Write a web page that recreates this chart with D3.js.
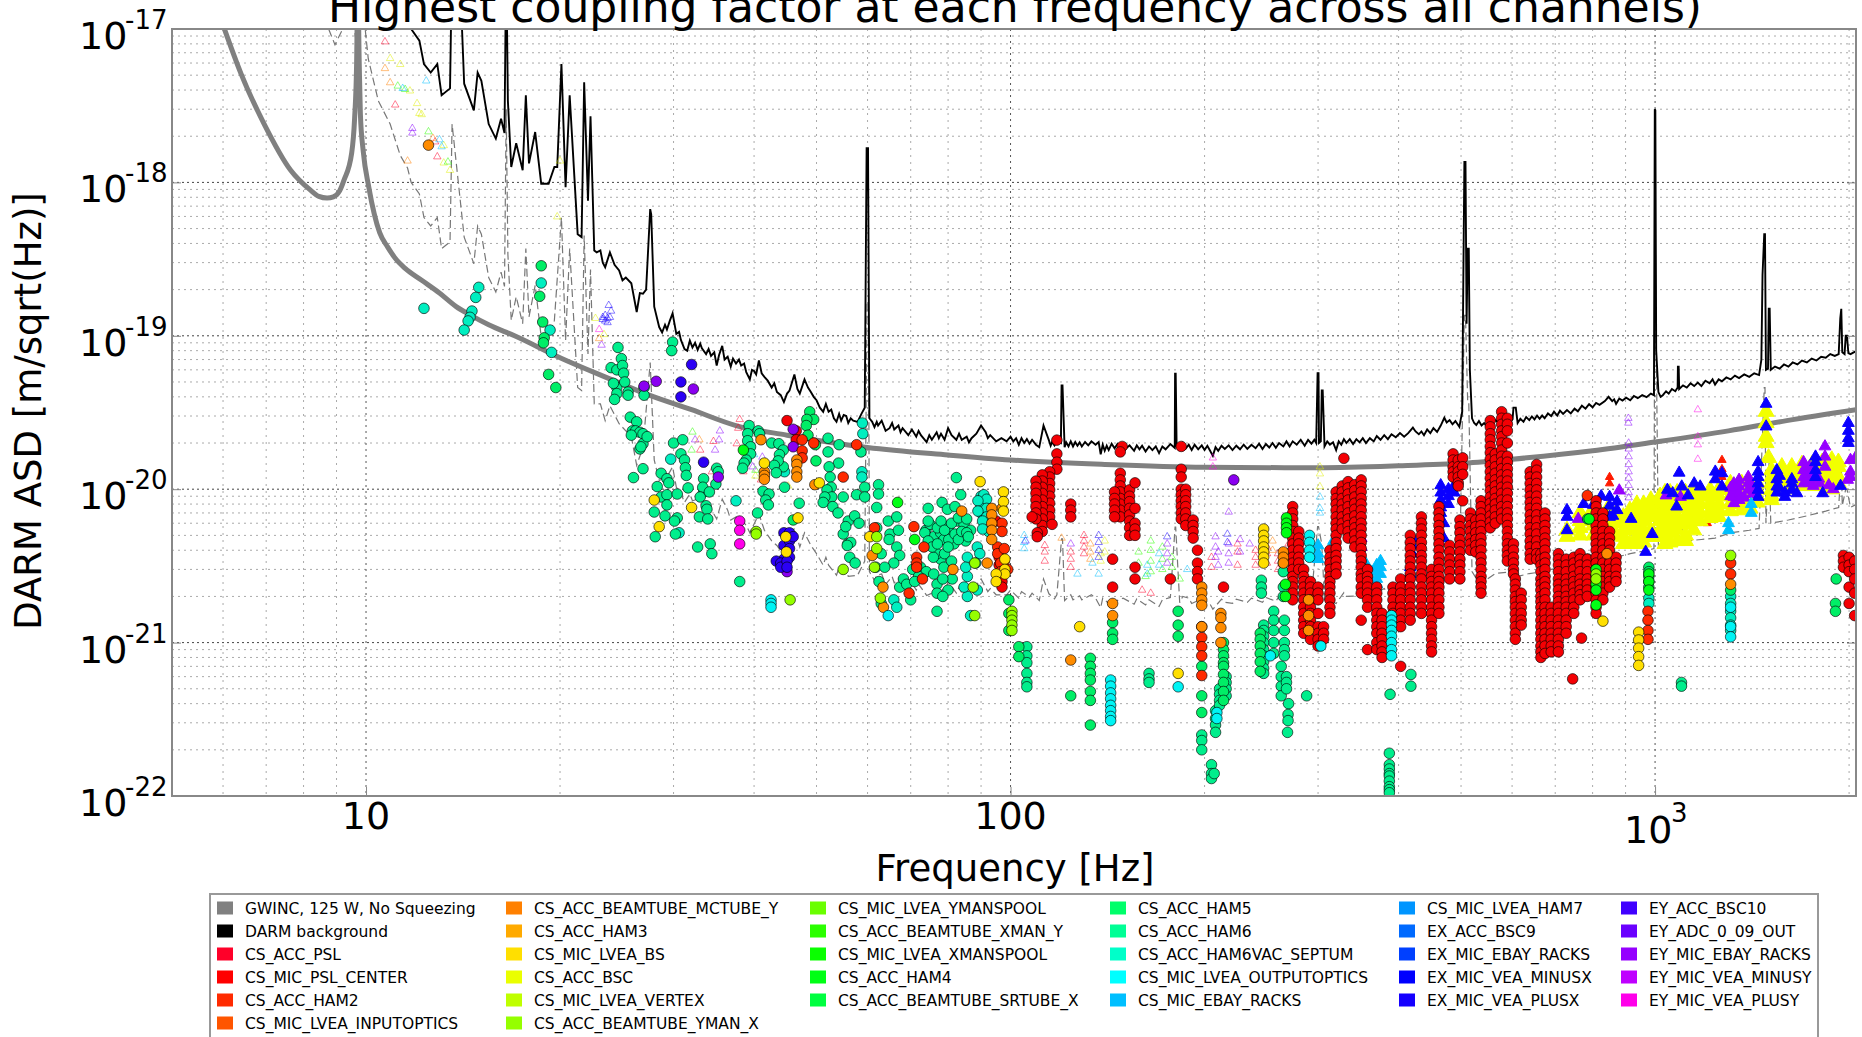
<!DOCTYPE html>
<html>
<head>
<meta charset="utf-8">
<script src="https://cdn.jsdelivr.net/npm/d3@7"></script>
<style>
  html, body { margin: 0; background: #fff; }
  text { font-family: "DejaVu Sans", sans-serif; fill: #000; }
</style>
</head>
<body>
<svg id="chart" width="1862" height="1037"></svg>
<script>
// legend, column by column
const legendNames = [
  'GWINC, 125 W, No Squeezing', 'DARM background', 'CS_ACC_PSL', 'CS_MIC_PSL_CENTER', 'CS_ACC_HAM2', 'CS_MIC_LVEA_INPUTOPTICS',
  'CS_ACC_BEAMTUBE_MCTUBE_Y', 'CS_ACC_HAM3', 'CS_MIC_LVEA_BS', 'CS_ACC_BSC', 'CS_MIC_LVEA_VERTEX', 'CS_ACC_BEAMTUBE_YMAN_X',
  'CS_MIC_LVEA_YMANSPOOL', 'CS_ACC_BEAMTUBE_XMAN_Y', 'CS_MIC_LVEA_XMANSPOOL', 'CS_ACC_HAM4', 'CS_ACC_BEAMTUBE_SRTUBE_X',
  'CS_ACC_HAM5', 'CS_ACC_HAM6', 'CS_ACC_HAM6VAC_SEPTUM', 'CS_MIC_LVEA_OUTPUTOPTICS', 'CS_MIC_EBAY_RACKS',
  'CS_MIC_LVEA_HAM7', 'EX_ACC_BSC9', 'EX_MIC_EBAY_RACKS', 'EX_MIC_VEA_MINUSX', 'EX_MIC_VEA_PLUSX',
  'EY_ACC_BSC10', 'EY_ADC_0_09_OUT', 'EY_MIC_EBAY_RACKS', 'EY_MIC_VEA_MINUSY', 'EY_MIC_VEA_PLUSY'
];
const legendColors = [
  '#808080', '#000000', '#ff0029', '#ff0000', '#ff2a00', '#ff5500',
  '#ff8000', '#ffaa00', '#ffdf00', '#eaff00', '#bfff00', '#95ff00',
  '#6aff00', '#2bff00', '#0aff00', '#00ff15', '#00ff40',
  '#00ff6a', '#00ff95', '#00ffc9', '#00ffff', '#00bfff',
  '#0095ff', '#006aff', '#0040ff', '#0000ff', '#1500ff',
  '#4000ff', '#6a00ff', '#9500ff', '#bf00ff', '#ff00ea'
];
const legendColumnSizes = [6, 6, 5, 5, 5, 5];

const yDecades = [1e-17, 1e-18, 1e-19, 1e-20, 1e-21, 1e-22];
const xDecades = [10, 100, 1000];

const gwinc = [[6.03,1e-17],[6.4,5.1e-18],[6.95,2.4e-18],[7.64,1.2e-18],[8.2,8.9e-19],[8.45,8.1e-19],[8.7,7.9e-19],[8.9,8.05e-19],[9.1,8.8e-19],
  [9.24,1.03e-18],[9.5,1.55e-18],[9.6,2.6e-18],[9.67,6e-18],[9.71,2e-17],[9.76,6e-18],[9.8,2.8e-18],[9.9,1.6e-18],[10.1,9.3e-19],
  [10.5,4.7e-19],[10.8,3.8e-19],[11.1,3.2e-19],[11.5,2.75e-19],[12.2,2.3e-19],[13,1.9e-19],[13.8,1.55e-19],[14.5,1.37e-19],[15.5,1.18e-19],[17,1e-19],[20,7.2e-20],[24,5.2e-20],[27.5,4.1e-20],
  [32,3.3e-20],[37.5,2.6e-20],[45,2.25e-20],[60,1.87e-20],[80,1.67e-20],[100,1.55e-20],[140,1.45e-20],[200,1.39e-20],[300,1.38e-20],
  [400,1.42e-20],[505,1.48e-20],[600,1.57e-20],[800,1.78e-20],[1000,2.03e-20],[1300,2.4e-20],[1600,2.8e-20],[2050,3.3e-20]];

const darmBackground = [[11.75,1e-17],[12.1,8.4e-18],[12.3,5.9e-18],[12.6,5.2e-18],[12.9,5.9e-18],[13.1,3.7e-18],[13.5,4.1e-18],[13.6,3e-17],
  [14.0,2e-17],[14.2,4.4e-18],[14.7,2.95e-18],[14.9,5.2e-18],[15.1,4.6e-18],[15.5,2.4e-18],[15.9,1.93e-18],[16.2,2.6e-18],[16.4,2.1e-18],[16.5,3e-17],
  [16.6,3.4e-18],[16.8,1.26e-18],[17.1,1.8e-18],[17.5,1.2e-18],[17.7,3.7e-18],[17.9,1.33e-18],[18.3,2.13e-18],[18.7,9.8e-19],[19.2,9.8e-19],
  [19.6,1.26e-18],[19.8,1.26e-18],[20.1,5.9e-18],[20.4,9.3e-19],[20.7,3.7e-18],[21.3,4.6e-19],[21.6,4.4e-19],[21.8,4.5e-18],[22.1,7.6e-19],
  [22.3,2.7e-18],[22.6,3.6e-19],[22.8,3.5e-19],[23.1,3.6e-19],[23.3,3e-19],[23.5,2.8e-19],[23.9,3.5e-19],[24.3,2.9e-19],[24.7,2.67e-19],[25,2.3e-19],[25.3,2.4e-19],[25.8,2.2e-19],
  [26.3,1.43e-19],[26.6,1.9e-19],[26.9,1.88e-19],[27.2,2e-19],[27.6,6.7e-19],[27.7,6.2e-19],[28.0,1.55e-19],[28.5,1.14e-19],[28.8,1.05e-19],[29.1,1.18e-19],[29.3,1.1e-19],[29.6,1.25e-19],
  [29.9,1.4e-19],[30.3,1.03e-19],[30.6,1.06e-19],[30.8,9.4e-20],[31.2,8.2e-20],[31.5,8e-20],[31.8,9.3e-20],[32.1,8.4e-20],[32.4,9e-20],[32.7,8.1e-20],[33,8.9e-20],[33.2,8.3e-20],[33.7,7.6e-20],[34,8.2e-20],[34.3,7.4e-20],[34.7,7.8e-20],
  [35,6.4e-20],[35.3,7.5e-20],[35.7,8.6e-20],[36,7e-20],[36.4,7.3e-20],[36.8,6.3e-20],[37.1,7.1e-20],[37.5,6.6e-20],[37.9,7e-20],[38.2,6.4e-20],[38.6,6.6e-20],[38.9,5.8e-20],[39.4,5.2e-20],[39.7,6e-20],[40,5.9e-20],[40.3,5.6e-20],[40.7,6.9e-20],
  [41.1,5.7e-20],[41.5,5.4e-20],[42,5.1e-20],[42.6,4.6e-20],[43,4.9e-20],[43.4,4.3e-20],[44,4.1e-20],[44.5,3.7e-20],[45,4.2e-20],[45.4,4.4e-20],[46.2,5.6e-20],[46.7,4.5e-20],[47.1,4.2e-20],[47.9,5.2e-20],[48.5,4.6e-20],[49,4.3e-20],[49.5,4e-20],[50,3.8e-20],
  [50.6,3.4e-20],[51.2,3.2e-20],[51.7,3.6e-20],[52.2,3.2e-20],[52.7,3.3e-20],[53.2,2.9e-20],[53.7,2.75e-20],[54.2,3.1e-20],[54.6,2.8e-20],[55.1,3.05e-20],[55.6,3e-20],[56,2.7e-20],[56.5,2.9e-20],[57,2.8e-20],[57.9,2.75e-20],[58.7,3.1e-20],[59.4,3.4e-20],[59.8,1.67e-18],
  [60.1,1.67e-18],[60.4,2.9e-20],[61,2.75e-20],[61.5,2.54e-20],[62,2.75e-20],[62.3,2.6e-20],[63.1,2.8e-20],[64,2.4e-20],[64.9,2.5e-20],[65.5,2.7e-20],[66,2.45e-20],[67,2.6e-20],[67.5,2.35e-20],[68,2.5e-20],
  [69.4,2.25e-20],[70.3,2.45e-20],[71.4,2.2e-20],[72,2.4e-20],[72.6,2.25e-20],[74.1,2.03e-20],[74.8,2.25e-20],[75.5,2.1e-20],[76.8,2.35e-20],[77.4,2.15e-20],[78,2.3e-20],[79,2.1e-20],[80,2.5e-20],[81,2.25e-20],
  [82.4,2.1e-20],[83.2,2.3e-20],[84,2.1e-20],[85.5,2.2e-20],[86.2,2.02e-20],[87,2.15e-20],[88.5,2.3e-20],[90,2.6e-20],[91.5,2.35e-20],[92.2,2.15e-20],[93,2.25e-20],[95,2.05e-20],[96.8,2.15e-20],[98.6,2.05e-20],
  [100,2.2e-20],[101,2.05e-20],[102,2.15e-20],[103,1.95e-20],[104,2.15e-20],[105,2e-20],[106,2.12e-20],[107,1.98e-20],[108,2.1e-20],[109.5,1.95e-20],[110.8,1.88e-20],[112.5,2.6e-20],[114.7,2.08e-20],[115.4,1.92e-20],[116,2.03e-20],[117,1.93e-20],[118,2.05e-20],[119.7,2e-20],
  [120,4.75e-20],[120.4,4.75e-20],[121.3,1.88e-20],[122,2.02e-20],[123,1.9e-20],[124,2.05e-20],[125,1.9e-20],[126,2.03e-20],[127,1.92e-20],[128,2.02e-20],[129,1.9e-20],[130.5,2.03e-20],[132,1.93e-20],[133.5,2.05e-20],[135.5,1.95e-20],[137,2.03e-20],[138,1.69e-20],
  [139,1.95e-20],[140,1.78e-20],[141,1.92e-20],[142,1.8e-20],[143.5,1.98e-20],[145,1.85e-20],[146.5,1.97e-20],[148,1.82e-20],[149.5,1.95e-20],[151,1.84e-20],[153,1.93e-20],[155.5,1.78e-20],[157,1.93e-20],[158.5,1.82e-20],[160,1.92e-20],[162,1.76e-20],[164,1.9e-20],[166,1.8e-20],[168,1.9e-20],[170,1.72e-20],[172,1.9e-20],[174,1.82e-20],
  [177,1.97e-20],[179.8,1.86e-20],[180,5.66e-20],[180.4,5.66e-20],[181,1.9e-20],[183,1.82e-20],[185,2e-20],[187,1.84e-20],[189,1.95e-20],[191,1.8e-20],[193,1.95e-20],[195.5,1.82e-20],[198,1.93e-20],[200,1.8e-20],[202,1.92e-20],[204,1.78e-20],[206,1.65e-20],
  [208,1.88e-20],[210,1.78e-20],[212.5,1.92e-20],[215,1.83e-20],[218,1.93e-20],[221,1.8e-20],[224,1.92e-20],[227,1.82e-20],[230,1.95e-20],[233,1.83e-20],[236.5,1.95e-20],[240,1.85e-20],[243,1.98e-20],[246,1.83e-20],[249,1.97e-20],[252,1.87e-20],[255,2e-20],[258,1.86e-20],[261,2e-20],[265,1.9e-20],[268,2.05e-20],[271,1.9e-20],[274,2.05e-20],
  [278,1.95e-20],[282,2.1e-20],[286,1.92e-20],[289.5,2.1e-20],[293,1.98e-20],[296,2.1e-20],[298,2e-20],[299.5,5.7e-20],[300.5,5.7e-20],[301,2e-20],[303,2.05e-20],[304,4.4e-20],[305,4.4e-20],[307,1.9e-20],
  [310,2.05e-20],[313,1.95e-20],[316.5,2.02e-20],[320,1.8e-20],[323,2.05e-20],[326,1.95e-20],[329,2.12e-20],[332,2e-20],[336,2.12e-20],[340,1.97e-20],[344,2.12e-20],[348,2.02e-20],[352,2.15e-20],[356,2e-20],[361,2.15e-20],[366,2.05e-20],[370,2.22e-20],[375,2.1e-20],[380,2.25e-20],[385,2.12e-20],[390,2.28e-20],[396,2.18e-20],
  [402,2.32e-20],[408,2.2e-20],[414,2.32e-20],[421,2.52e-20],[425,2.38e-20],[430,2.28e-20],[434,2.38e-20],[438,2.25e-20],[443,2.45e-20],[448,2.32e-20],[453,2.5e-20],[459,2.36e-20],[465,2.6e-20],[471,2.92e-20],[475,2.72e-20],[480,2.82e-20],[485,2.65e-20],[490,2.78e-20],[497,2.55e-20],
  [502,3.2e-20],[506,1.36e-18],[508,1.36e-18],[510,1.2e-19],[512,3.7e-19],[514,3.7e-19],[516,6e-20],[520,2.9e-20],[524,2.7e-20],[528,2.62e-20],[533,2.78e-20],[538,2.6e-20],[543,2.7e-20],
  [548,2.58e-20],[553,2.85e-20],[559,2.7e-20],[565,2.82e-20],[572,2.72e-20],[580,2.95e-20],[585,2.75e-20],[590,2.88e-20],[596,2.75e-20],[601,2.85e-20],[603,3.4e-20],[606,3.4e-20],[608,3.4e-20],[612,2.7e-20],[618,2.88e-20],[625,2.75e-20],[631,2.95e-20],[638,2.82e-20],
  [644,2.98e-20],[650,2.85e-20],[656,3.02e-20],[662,2.88e-20],[668,3.02e-20],[674,2.9e-20],[682,3.12e-20],[690,3e-20],[697,3.2e-20],[705,3.02e-20],[712,3.25e-20],[720,3.1e-20],[730,3.28e-20],[740,3.12e-20],[750,3.35e-20],[759,3.22e-20],[770,3.5e-20],[780,3.35e-20],[790,3.58e-20],[800,3.42e-20],[810,3.65e-20],[820,3.55e-20],
  [836,3.75e-20],[847,4e-20],[858,3.75e-20],[864,3.85e-20],[870,3.6e-20],[880,3.9e-20],[890,3.78e-20],[902,3.95e-20],[915,3.8e-20],[927,4.05e-20],[940,3.92e-20],[955,4.1e-20],[970,3.98e-20],[985,4.2e-20],[996,4.1e-20],[999,3e-18],[1001,2.95e-18],[1004,8e-20],
  [1012,4.3e-20],[1020,4e-20],[1028,4.1e-20],[1040,4.35e-20],[1050,4.2e-20],[1062,4.5e-20],[1075,4.35e-20],[1084,4.6e-20],[1085,6.3e-20],[1088,6.3e-20],[1090,4.5e-20],[1105,4.75e-20],[1120,4.6e-20],[1135,4.9e-20],[1150,4.7e-20],
  [1165,4.95e-20],[1180,4.7e-20],[1197,5.1e-20],[1215,4.9e-20],[1228,5.2e-20],[1239,4.8e-20],[1255,5.2e-20],[1270,5.05e-20],[1290,5.35e-20],[1310,5.2e-20],[1330,5.5e-20],[1350,5.3e-20],[1375,5.6e-20],[1400,5.4e-20],[1425,5.7e-20],[1450,5.55e-20],[1462,7e-20],[1468,2.5e-19],[1477,4.6e-19],
  [1481,4.6e-19],[1486,6e-20],[1497,6.1e-20],[1501,1.5e-19],[1506,1.5e-19],[1512,6e-20],[1535,6.3e-20],[1560,6.1e-20],[1585,6.5e-20],[1610,6.3e-20],[1635,6.7e-20],[1663,6.5e-20],[1690,6.9e-20],[1720,6.7e-20],[1750,7.1e-20],[1780,6.9e-20],[1810,7.3e-20],
  [1840,7.2e-20],[1870,7.6e-20],[1900,7.4e-20],[1927,7.6e-20],[1938,1.3e-19],[1945,1.5e-19],[1952,7.8e-20],[1968,7.6e-20],[1976,1e-19],[1985,1e-19],[1995,7.7e-20],[2010,7.6e-20],[2056,8e-20]];

// thin dashed curve sitting a decade under the background
const darmLimit = [[8.75,1e-17],[8.95,7.9e-18],[9.2,1e-17],[9.55,2e-17],[9.62,9e-18],[9.68,8e-18],[9.75,2e-17],[9.97,1e-17],[10.08,6.4e-18],[10.45,3.4e-18],[10.9,2.4e-18],
  [11.3,1.5e-18],[11.6,1.24e-18],[11.75,1e-18],[12.1,8.4e-19],[12.3,5.9e-19],[12.6,5.2e-19],[12.9,5.9e-19],[13.1,3.7e-19],[13.5,4.1e-19],[13.6,2.4e-18],[14.2,4.4e-19],
  [14.7,2.95e-19],[14.9,5.2e-19],[15.1,4.6e-19],[15.5,2.4e-19],[15.9,1.93e-19],[16.2,2.6e-19],[16.4,2.1e-19],[16.5,3e-18],[16.6,3.4e-19],[16.8,1.26e-19],[17.1,1.8e-19],
  [17.5,1.2e-19],[17.7,3.7e-19],[17.9,1.33e-19],[18.3,2.13e-19],[18.7,9.8e-20],[19.2,9.8e-20],[19.6,1.26e-19],[20.1,5.9e-19],[20.4,9.3e-20],[20.7,3.7e-19],[21.3,4.6e-20],
  [21.6,4.4e-20],[21.8,4.5e-19],[22.1,7.6e-20],[22.3,2.7e-19],[22.6,3.6e-20],[23.1,3.6e-20],[23.5,2.8e-20],[23.9,3.5e-20],[24.7,2.67e-20],[25.8,2.2e-20],[26.3,1.43e-20],
  [26.9,1.88e-20],[27.6,6.7e-20],[28,1.55e-20],[28.5,1.14e-20],[29.3,1.2e-20],[29.9,1.4e-20],[30.3,1.03e-20],[30.8,9.4e-21],[31.2,8.2e-21],[31.8,9.3e-21],[32.1,8.4e-21],[33.2,8.8e-21],[33.7,7.6e-21],[34.3,7.4e-21],[35,6.4e-21],
  [35.7,8.6e-21],[36.4,7.3e-21],[36.8,6.3e-21],[37.5,6.6e-21],[38.2,6.4e-21],[38.9,5.8e-21],[39.4,5.2e-21],[40.7,6.9e-21],[41.5,5.4e-21],[42.6,4.6e-21],[43.4,4.3e-21],[44.5,3.7e-21],[45.4,4.4e-21],[46.2,5.6e-21],[47.1,4.2e-21],[47.9,5.2e-21],
  [49,4.3e-21],[50,3.8e-21],[51.2,3.2e-21],[51.7,3.6e-21],[52.2,3.2e-21],[53.7,2.75e-21],[54.2,3.1e-21],[55.6,3e-21],[56,2.7e-21],[57.9,2.75e-21],[59.4,3.4e-21],[59.9,1.67e-19],[60.2,1.67e-19],[60.4,2.9e-21],
  [61.5,2.54e-21],[62,2.75e-21],[63.1,2.8e-21],[64,2.4e-21],[65.5,2.7e-21],[66,2.45e-21],[67,2.6e-21],[67.5,2.35e-21],[69.4,2.25e-21],[70.3,2.45e-21],[71.4,2.2e-21],[72,2.4e-21],[74.1,2.03e-21],[75.5,2.1e-21],[76.8,2.35e-21],[78,2.3e-21],[79,2.1e-21],[80,2.5e-21],
  [82.4,2.1e-21],[83.2,2.3e-21],[84,2.1e-21],[86.2,2.02e-21],[87,2.15e-21],[90,2.6e-21],[92.2,2.15e-21],[93,2.25e-21],[95,2.05e-21],[98.6,2.05e-21],[100,2.2e-21],[103,1.95e-21],[104,2.15e-21],[107,1.98e-21],[108,2.1e-21],[110.8,1.88e-21],[112.5,2.6e-21],[114.7,2.08e-21],
  [117,1.93e-21],[118,2.05e-21],[120,4.75e-21],[120.4,4.75e-21],[121.3,1.88e-21],[124,2.05e-21],[125,1.9e-21],[128,2.02e-21],[129,1.9e-21],[133.5,2.05e-21],[135.5,1.95e-21],[138,1.69e-21],[139,1.95e-21],[142,1.8e-21],[143.5,1.98e-21],[145,1.85e-21],[149.5,1.95e-21],[155.5,1.78e-21],[157,1.93e-21],
  [162,1.76e-21],[164,1.9e-21],[170,1.72e-21],[172,1.9e-21],[177,1.97e-21],[180,5.66e-21],[180.4,5.66e-21],[183,1.82e-21],[185,2e-21],[189,1.95e-21],[191,1.8e-21],[198,1.93e-21],[204,1.78e-21],[206,1.65e-21],[212.5,1.92e-21],[215,1.83e-21],[221,1.8e-21],[224,1.92e-21],
  [233,1.83e-21],[236.5,1.95e-21],[246,1.83e-21],[249,1.97e-21],[258,1.86e-21],[261,2e-21],[265,1.9e-21],[278,1.95e-21],[282,2.1e-21],[293,1.98e-21],[299.5,5.7e-21],[300.5,5.7e-21],[304,4.4e-21],[307,1.9e-21],[320,1.8e-21],[329,2.12e-21],[332,2e-21],
  [348,2.02e-21],[352,2.15e-21],[366,2.05e-21],[380,2.25e-21],[385,2.12e-21],[396,2.18e-21],[421,2.52e-21],[430,2.28e-21],[438,2.25e-21],[459,2.36e-21],[471,2.92e-21],[497,2.55e-21],[506,1.36e-19],[508,1.36e-19],[512,3.7e-20],
  [514,3.7e-20],[520,2.9e-21],[528,2.62e-21],[533,2.78e-21],[543,2.7e-21],[548,2.58e-21],[565,2.82e-21],[590,2.88e-21],[604,3.4e-21],[612,2.7e-21],[638,2.82e-21],[662,2.88e-21],[690,3e-21],[720,3.1e-21],[759,3.22e-21],[800,3.42e-21],
  [847,4e-21],[870,3.6e-21],[915,3.8e-21],[970,3.98e-21],[996,4.1e-21],[999,3e-19],[1001,2.95e-19],[1012,4.3e-21],[1028,4.1e-21],[1075,4.35e-21],[1085,6.3e-21],[1088,6.3e-21],[1120,4.6e-21],
  [1180,4.7e-21],[1239,4.8e-21],[1310,5.2e-21],[1400,5.4e-21],[1450,5.55e-21],[1477,4.6e-20],[1481,4.6e-20],[1486,6e-21],[1503,1.5e-20],[1512,6e-21],[1610,6.3e-21],[1720,6.7e-21],
  [1840,7.2e-21],[1927,7.6e-21],[1945,1.5e-20],[1952,7.8e-21],[1976,1e-20],[1985,1e-20],[2010,7.6e-21],[2056,8e-21]];

// measured coupling: each row is [frequency Hz, then ASD values in units of 1e-21]
const ham6Points = [
  [24.6,84],[24.9,71],[24,62],[24.5,60,46,42],[25,64],[25.1,57],[24.2,49],[25.2,50],[24.3,38.5],[25.5,43,41],[27,46,41],
  [25.7,29.5],[26.3,27.5],[25.9,24],[26.2,24],[26.6,23.5,18.3],[26.9,23,19.8,13.6],[27.3,22],[25.8,22.5],[26.7,18.9],[29.9,91],[29.8,80],[26,11.9],
  [30.8,17],[31.2,15.5],[31.3,13.8],[31.4,12.3],[31.6,10.2],[28.7,12.7,8.9],[29.3,11.7,9.2,7.9],[29.5,11],[28.3,10.4],[30.4,9.3,6.5],[28,7.1],[29.1,6.7],[30.1,6.2],[28.1,4.9],[30.2,5.1],
  [33.4,11.7,9.6],[33.3,10.3],[33,8.9],[35,13.7],[35.2,13],[34.9,10.8],[34.1,9.6],[33.7,7.8],[33.8,7.4],[32.9,6.6],[33.9,6.4],[32.7,4.2],[34.2,4.4],[34.4,3.8],[38,2.5],[30,20],[31,21],
  [39.3,26],[39.1,23,20.7],[39.5,18.9,17],[38.9,15.5],[38.6,14.8],[38.4,13.7],[40.6,24],[40.8,23],[42.6,20],[43.7,19.8],[44.4,18,14],[43.8,16.8],[43.6,15.3],[43,14.3],[43.3,12.8],[44.6,10.3],
  [41.3,9.7],[42.2,9.3],[41.7,8.5],[42.1,7.9],[40.5,7],[47,8.1],[52.1,21.5,17.5],[54.2,19.5],[54.1,14.8],[52.3,14],[58.6,17.5],[57.7,9.2],[59.4,10.3,8.9],[62.4,10.7,9.3],[62,7.6,5.6],
  [64.6,6.2],[65,5.1],[66.6,6.6,4.2],[67,5.4],[64.8,4.7],[63,3.8,1.8],[67.3,3.7,2.3],[65.9,3.3],[61.8,3.1],[63.8,3.1],[74.5,7.5],[78.3,8.2],[82.4,11.9],[83.7,9.2,5.2],[79.8,7.4,5.7],[82,7.7],
  [73.9,5.4],[75,5.9],[76,4.9],[82.7,6.2],[84.7,5.9],[86.7,5.4],[77.9,5.2,3.5],[80.7,5.2],[81.7,4.4],[78.8,4.7,3.1],[73.6,5.2],[76.9,3.8,2.4,2.1,1.6],[81.2,2.6],[75.9,3.6],[80.2,4.7],[85.2,4.6],
  [74.5,6.2,4.6],[75.6,4.2],[77,5.6,4.4],[78,6.2],[79,5.4,3.8],[80,4.2,2.2],[81,6,3.4],[82,5.1],[83,6.5,4.7],[84,5.3],[85.5,6.4,5.2],[86,4.9],[72.5,3.1],[74,2.9],[76,2.8],[78.5,2.6,2],[70.5,3],[72,2.7],
  [68.2,2.6],[69,2.4],[71,2.5],[70,1.9],[62.5,2.5],[52.5,12],[52.7,10.3],[51.9,9.9],[55,8.9,5.1],[52.8,8.9],[51.5,8.9],[51.2,8.2],[53,7.7],[54,7],[56,6.2],[55.5,5.7],[57.3,6.7],[58.2,6],[55.9,4.4],[56.5,4.5],[56.3,3.6],[57.4,3.3],[55.8,4.3],
  [245,2.55,2.3,2.1],[265,3.3,2.9,2.3,2],[256,1.6,1.4,1.2,1,.85],[266,1.4,1.2,1,.9,.82],[247,1.3,1.2,1.1,1,.9,.82,.75,.68,.63],[263,.7,.6,.52,.45],[268,.6,.55,.5],[288,.45],
  [270,.4],[269.5,.34,.31],[269,.26],[387,.19,.16,.15,.14,.135,.125,.115,.11,.105],[388,.46],[418,.62,.52],[1099,.55,.52],
  [164,.63,.58,.55],[208,.36,.32,.29,.26],[205,.16,.14,.13],[207,.14],[198,.25,.23,.2],[211,.5,.46,.42,.39],[216,.6,.55,.5,.45],[106,.94,.82,.74,.63,.55,.515],[786,3.5,3.2,2.9,2.6,2.4],[835,3.1,2.8,2.7]
];
const ham5Points = [
  [18.7,286],[18.6,181],[18.8,123],[18.9,97],[18.85,90],[19.2,56],[19.7,46],[46,6.3],[48.8,32],[49.5,28.5],[48.3,28.5],[48.2,26],[48.5,22.5],[49.8,19.5],[49.9,15.3],
  [99.4,1.9,1.55,1.2],[103,.94,.81],[133,.79,.7,.63,.57,.48,.42,.29],[124,.45],[144,1.35,1.15,1.05],[182,1.6,1.3,1.1],[198,.7,.45,.35],[214,1,.9,.82,.74,.7,.62,.55,.48,.42],[244,1.15,1.05,.95,.85,.75,.65],
  [978,3.1,2.9,2.7,2.5,2.3],[1910,2.6],[1905,1.8,1.6],[1310,2.2],[786,6.4]
];
const septumPoints = [
  [12.3,151],[14.96,207],[14.8,178],[14.6,145],[14.5,132],[14.4,125],[14.2,109],[18.7,221],[19.3,109],[19.4,78],[29.7,15.7],[30.6,5.2],[37.5,8.4],[58.9,27],[59,23],[58.8,13,12],[44.6,13],
  [85.7,3.6,2.7,2],[85.2,3.1],[88.8,4.2,2.2],[89.6,3.8],[88.3,3.3],[84.7,2.3],[86.7,1.5],[90,9,8.5,7.7,7],[90.9,9.2,7.9,6.9],[91.8,8.6,7.5,6.6],[89,8.4,7.2],[92.5,5.3],[90.5,6.2,5.5],[65.9,1.9],[66.6,1.7],
  [1310,2,1.8,1.6,1.45,1.3,1.2],[978,1.95,1.8],[810,3],[830,3.4]
];
const cyanPoints = [[42.5,1.9,1.8,1.7],[64.6,1.5],[143,.57,.52,.47,.43,.39,.36,.33,.31],[182,.515],[209,.35,.32],[253,.82],[390,1.5,1.4,1.3,1.2,1.1,1,.9,.82],[303,.95],[1310,1.7,1.27,1.09],[291,5,4.5,4,3.6]];
const redPoints = [
  [118,20.9,17,15,13.5],[115,13,12,10.9,9.9,9,8.1,7.3,6.6],[112,12.4,11.3,10.3,9.4,8.5,7.7,7,6.4,5.8,5.3],[109.5,11.3,10.3,9.4,8.5,7.7,7,6.4],[116,5.9],[110,5.2,4.9],[108,6.6],[124,8,7.3,6.6],
  [149,19],[148,17.5,12.7,11.5,10.5,9.6,8.7,8,7.3,6.6],[145,9.6,8.7,8,7.3,6.6],[153,9.9,9,8.3,7.5,6.8,6.2,5.6,5],[156,11,7.5,6,5.5,5,3.1,2.6],[144,3.5,2.3],[184,19,13.5,12,10,9.2,8.4,7.7,7,6.4],[187,10,9.2,8.4,7.7,7,6.4,5.8],[192,6.3,5.8,5.3,4.8],[195,4,3.3,2.9,2.6],[177,2.6],[214,2.3],
  [96,4,3.6,3.2],[97,2.5,2.3],[95,6.2],[274,7.7,7,6.4,5.8,5.3,4.8,4.4,4,3.6,3.3,3,2.7,2.5,2.3,2.1,1.9],[280,5.3,4.8,4.4,4,3.6,3.3,3],[285,3,2.7,2.5,2.3,2.1,1.9,1.7,1.55,1.4,1.27,1.15],[292,2.5,2.3,2.1,1.9,1.7,1.55,1.4,1.27,1.15,1.05],[300,2.3,2.1,1.9,1.55,1.27,1.15,1.05,.95],[306,1.27,1.15,1.05],
  [313,4,3.6,3.3,3,2.7,2.5,2.3,2.1,1.9,1.7,1.55],[320,9.6,8.7,8,7.3,6.6,6,5.5,5,4.5,4.1,3.7,3.4,3.1,2.8],[327,10.5,9.6,8.7,8,7.3,6.6,6,5.5],[329,15.9],[334,11.2,10.2,9.3,8.5,7.7,7,6.4,5.8,5.3,4.8],[342,10.7,9.8,8.9,8.1,7.4,6.7,6.1,5.6,5.1,4.6,4.2],
  [350,11.5,10.5,9.6,8.7,8,7.3,6.6,6,5.5,5,4.5,4.1,3.7,3.4,3.1,2.8,2.6,2.3,2.1,1.4],[358,3,2.7,2.5,2.3,2.1,1.9,1.7,.9],[370,2.3,2.1,1.9,1.7,1.55,1.4,1.27,1.15,1,.9],[377,1.55,1.4,1.27,1.15,1.05,.95,.87,.8],[392,2.3,2.1,1.9,1.7,1.55,1.4],[403,2.6,2.3,2.1,1.9,1.7,1.55,1.4,1.27,.7],
  [417,5,4.5,4.1,3.7,3.4,3.1,2.8,2.6,2.3,2.1,1.9,1.7,1.55,1.4],[434,6.6,6,5.5,5,4.5,4.1,3.7,3.4,3.1,2.8,2.6,2.3,2.1,1.9,1.7,1.55],[450,3,2.7,2.5,2.3,2.1,1.9,1.7,1.55,1.4,1.27,1.15,1.05,.95,.87],[462,7.7,7,6.4,5.8,5.3,4.8,4.4,4,3.6,3.3,3,2.7,2.5,2.3,2.1,1.9,1.7,1.55],[480,4.3,3.9,3.5,3.2,2.9,2.6],
  [498,6.3,5.7,5.2,4.7,4.3,3.9,3.5,3.2,2.9,2.6],[486,17,15.5,14,13,12],[495,15.5,14,13,12,11,10.5],[503,16,14,12.5,8.4],[517,7,6.4,5.8,5.3,4.8,4.4,4],[527,6.3,5.7,5.2,4.7,4.3,3.9],[537,8.4,7.7,7,6.4,5.8,5.3,4.8,4.4,4,3.6,3.3,3,2.7,2.5,2.3,2.1],
  [555,28,25.5,23,21,19,17.3,15.7,14.3,13,11.8,10.7,9.8,8.9,8.1,7.4,6.7,6.1,5.6],[565,17,15.5,14,12.7,11.5,10.5,9.6,8.7,8,7.3,6.6,6],[578,32,29,26.5,24,22,20,18,16.4,15,13.6,12.4,11.3,10.3,9.4,8.5,7.7,7,6.4],[590,29,26.5,24,20,16.4,15,13.6,12.4,11.3,10.3,9.4,8.5,7.7,7,6.4,5.8,5.3,4.8,4.4,4,3.7,3.4],
  [603,4.4,4,3.6,3.3,3,2.8],[607,2.6,2.4,2.2,2,1.85,1.7,1.55,1.4,1.27,1.15,1.05],[620,2.1,1.9,1.7,1.55,1.4,1.3],[640,13,12,10.9,9.9,9,8.2,7.5,6.8,6.2,5.6,5.1,4.6,4.2,3.8,3.5],[655,14.5,13.3,12,10.9,9.9,9,8.2,7.5,6.8,6.2,5.6,5.1,4.6,4.2,3.8,3.5],
  [665,3.8,3.5,3.2,2.9,2.6,2.4,2.2,2,1.85,1.7,1.55,1.4,1.27,1.15,1.05,.95,.87,.8],[675,7,6.4,5.8,5.3,4.8,4.4,4,3.6,3.3,3,2.7,2.5,2.3,2.1,1.9,1.7,1.55,1.4,1.27,1.15,1.05,.95,.85],[690,1.7,1.55,1.4,1.27,1.15,1.05,.95,.87],[708,3.8,3.5,3.2,2.9,2.6,2.4,2.2,2,1.85,1.7,1.55,1.4,1.27,1.15,1.05,.95,.87],
  [728,3.5,3.2,2.9,2.6,2.4,2.2,2,1.85,1.7,1.55,1.4,1.27,1.15],[748,3.6,3.3,3,2.7,2.5,2.3,2.1,1.9,1.7,1.55],[745,.58],[769,1.07],[765,3.8,3.5,3.2,2.9,2.6,2.4,2.2,2.05,1.9],[785,3.5,3.2,2.9,2.6,2.4,2.2,2],[810,8.4,7.7,7,6.4,5.8,5.3,4.8,4.4,4,3.6,3.3,3,2.7,2.5,2.3,2.1,1.9,1.7,1.55],
  [830,7,6.4,5.8,5.3,4.8,4.4,4,3.6,3.3,3,2.7,2.5,2.3,2.1,1.9],[850,5.3,4.8,4.4,4,3.6,3.3,3,2.7,2.5,2.3],[870,3.6,3.3,3,2.7,2.5],
  [1960,3.7,3.4,3.1],[2000,3.6,3.2,2.9,2.3,1.8],[2040,3.4,3,2.6,2.1,1.5],[45,28],[46.5,24,21]
];
const ham2Points = [[47.5,21,17.8,16],[49.5,20],[57.7,19.5],[55,12],[61.5,5.6],[70.8,5.7],[73.4,4.2],[71.5,3.6,3.3,3.1],[73,2.6],[69.6,2.1],[97,6,5.3],[95.5,4.2,3.8],[97.8,4.1,3.4],[99,3],[785,9.1],[198,1.27,1.08,.94,.82,.61],[975,1.6,1.4,1.2,1.05],[1310,3.3,2.8],[96.5,3.3,2.9]];
const orangePoints = [[12.5,1750],[41,21],[41.5,13,12.3,11.6],[46.6,15.5,14.5,13,12],[49.7,10.7],[97,7.5],[93.5,7.5,6.8,6,5.4,4.7],[92,3.3],[84,7.2],[81.4,3],[63.4,2.3],[63.5,1.7],[61,3.7],[124,.77],[144,1.8,1.5],[198,2.3,2.1,1.9,1.75,1.27],[212,1.55,1.45,1.25,1],[1310,2.4],[842,3.8],[265,3.9,3.6,3.3],[290,1.9,1.5,1.2]];
const goldPoints = [[28.5,5.7],[32,7.6],[28,8.5],[46.8,6.5],[41.5,14.8],[50.5,11],[44.8,4.9],[44.9,3.9],[89.7,11.2],[97.5,9.6,8.3,7.2],[98,3.5,3,2.8],[95,2.8,2.5],[128,1.27],[182,.63],[247,5.5,5,4.6,4.2,3.9,3.6,3.3],[943,1.17,1.04,.92,.81,.71],[830,1.38],[60.5,4.9]];
const limePoints = [[40.3,5.3,5.1],[62,4.9,4.1],[61.5,3.1],[88,3.3,1.5],[100.5,1.6,1.5,1.4,1.3,1.2],[1310,3.7],[810,2.8,2.6],[87.5,2.3],[62.8,1.95],[45.5,1.9],[55,3]];
const greenPoints = [[66.8,8.2],[71,4.7],[268,6.5,6,5.6,5.2],[267,2.4,2],[810,3,2.4,2.2,1.76],[790,6.4],[978,2.8,2.5,2.2],[38.5,18]];
const bluePoints = [[30.8,50,40],[32,65],[33.4,15],[44.5,5.2,4.3,3.5],[45.4,5.2,4.6,4.1,3.6],[46,4.9],[43.3,3.4],[44,3.3,3.1],[45,3.4,3.1]];
const purplePoints = [[28.2,50.5],[27,47],[32.2,45],[46,24.6,18.9],[35.2,12],[45,2.9],[222,11.5]];
const magentaPoints = [[38,6.2,5.4,4.4]];

// upper limits, pale and open where they sit alone
const upperSparseRed = [[10.7,8260],[11.1,3200],[12.8,1840],[12.9,1470],[33,18],[34.6,20.5],[34.4,13],[38,28.5],[37.8,25],[37.6,19.8],[38.5,13],[41,11.5],[130,5,4.6,4.2,3.8],[124,3.9,3.5,3.1],[214,2.3],[160,2.2],[165,2.1],[240,4,3.6,3.2],[250,4.2,3.8,3.3],[260,3.8,3.4,3],[225,4.4,3.9,3.2],[205,3.6,3.1],[270,4.4,3.9],[113,4.3,3.9,3.4]];
const upperSparseYellow = [[10.9,6430],[11.3,5880],[11.7,3950],[12,3270],[12.1,2820],[12.2,2770],[13.2,1740,1340],[13.5,1200],[20,1380],[19.8,597],[22.7,130],[23.4,102],[40.2,12.2],[45.2,10.5],[302,14,12.6,10.4],[140,4.6,3.9],[138,3.8,3.4]];
const upperSparseOrange = [[10.7,5530],[10.9,4470],[12.7,1940],[11.6,1380],[23,96],[32.9,21],[133,4.4,3.9,3.5],[255,4.6,4],[120,4.8]];
const upperSparseGreen = [[11.2,4250],[11.5,4040],[12.5,2140],[13.4,1360],[32.1,23.6],[32,18],[40.2,13.3],[165,4.6,4,3.4,2.9],[172,4.2,3.5,3],[158,3.9,3.3],[178,3.6,3.1],[162,2.7],[183,2.6]];
const upperSparseCyan = [[11.4,4100],[12.4,4590],[13,1900],[13.1,1710],[40,16.8],[105,5,4.5,4.1],[127,2.8],[134,3.3],[302,8.9,7.5,7],[170,3.8,3.2],[163,3.2,2.8],[188,3],[137,2.8]];
const upperSparseBlue = [[23.8,158],[24,145],[23.3,132,128],[23.5,136,125],[23.7,130,122],[23.9,132],[105.5,4.6],[137,5,4.5,4,3.6],[175,4.9],[217,5.1,4.5]];
const upperSparsePurple = [[11.8,2250,2100],[23.2,87],[32.4,21],[35.4,24],[35.3,21],[34.8,18],[41.2,16.2],[39.8,14],[124,4.4],[175,4.4,3.8,3.3],[208,4.9,4.2,3.6],[218,7.1,4.4,3.8,3.3],[227,4.7,3.9],[235,4.4],[910,20,18.3,16.3,14.5,13,11.8,10.6,9.5,8.8],[909,29,27],[210,3.9,3.2]];
const upperSparsePink = [[23,110],[206,16,14],[1165,33,22,19.5,15.7]];

// upper limits where they pile up into solid bands
const upperDenseYellow = [[730,5.4,4.9],[765,7,6.2,5.6,5],[802,7.5,6.6,5.8,5],[845,7.5,6.4,5.4],[870,7,6,5],
  [893,6.6,6,5.4,4.9,4.4],[914,7.3,6.6,6,5.4,4.4],[937,8,7.3,6.6,6,5.4,4.9,4.4],[960,8,7,6.2,5.4,4.9,4.5],[985,8.5,7.5,6.6,5.4,4.9],[1018,9,8,7,6.2,5.4,4.9],
  [1036,9.5,8.5,7.5,6.6,5.5,4.9,4.4],[1055,9.5,8.5,7.5,6.6,6,5.2,4.5],[1082,9.5,8.5,7.5,6.6,6,5.4,4.6],[1115,9.5,8.5,7.5,6.6,5.9,5,4.6],[1148,9.9,9,8,7,6.2,5.4],[1175,9.9,9,8,7,6.2],
  [1217,9.9,9,8.1,7.2,6.5],[1256,10,9,8,7.3,6.6],[1309,10.9,9.9,9,8,7.2],[1363,10.9,9.9,9,8,7.3],[1404,11,10,9,8.2,7.5],[1440,11,10,9,8.2],
  [1516,13.3,12,10.9,9.9,9,8.5],[1573,14,13,12,10.9,9.9],[1630,14,13,12,11,10],[1690,14.5,13.3,12,11,10.5],[1752,14.5,13.5,12,11,10.5],[1817,15,14,12.5,11.5,10.5],[1880,15.5,14,12.5,11,10],[1925,15,14,12,11],
  [1487,32,27,22,20],[1500,16]];
const upperDenseRed = [[938,6.2,5.5],[960,7.3],[1270,15.5,13.5,12,10.5],[1205,6],[850,12,10.9],[985,6.6],[1160,6.2],[1090,5.4]];
const upperDenseBlue = [[730,7.3,6.6,5.4],[802,7.9],[873,8.3,7.3],[918,6.4],[990,5.1],[967,3.9],[1045,9.9],[1080,7.7],[1100,10.4],[1125,9.1],[1150,10.9],[1175,10.4],[1090,12.8],[1240,13,11.6],[1270,12.7,10.4],
  [1445,15,13,12,10.9,9.9,8.9],[1545,13.3,11.6,10.4,9.5],[1590,9.5,8.9],[1630,11.6,10.9,9.9],[1774,16.3,15,13.3,12],[1995,27,24,21.5,20],[1487,36,25.6],[850,8.9,7.8,6.6],[465,10.6,9.5,8.5,7.6,7],[478,10,9,8],[488,10.6,9.5],[420,4.8,4.3,3.8],[470,4.8],[417,3.1,2.8],[470,6],
  [775,8],[825,9],[860,6.7],[1065,9.4],[1560,12.2,10.2],[1660,9.4],[1820,9.4],[1940,10.5]];
const upperDensePurple = [[1325,10.9,9.9,8.9,8.1],[1350,11.5,10.4,9.4,8.5],[1395,12,10.9,9.9],[1415,10.5,9.3],[1700,15,13.3,12,10.9],[1735,14,12.5,11],[1800,10.9],[1835,19,16.3,14],[1860,10.6],[2010,15.5,13,12],[2050,16.3],[1095,8.9],[1040,9.1],[350,4.8,4.2],
  [1310,10.2,9],[1375,8.8],[1760,10.5],[1795,11.7],[1890,10],[1990,11.5],[880,9.8],[760,6.4]];
const upperDenseCyan = [[300,4.3,3.8,3.5],[317,4.6,4.2,3.8],[354,3.4,3.1],[362,2.9,2.6],[370,3.2,2.9,2.6,2.4],[375,3.4,3.1,2.8],[1410,8,7],[1300,6,5.4]];

// drawing order: later groups land on top
const pointGroups = [
  [septumPoints, '#00eec0'], [ham6Points, '#00ee8c'], [ham5Points, '#00ee66'],
  [redPoints, '#f40004'], [purplePoints, '#8a00f0'], [bluePoints, '#2b00f4'], [magentaPoints, '#ff00ea'],
  [greenPoints, '#00ff15'], [ham2Points, '#ff2a00'], [orangePoints, '#ff8c00'], [goldPoints, '#ffdf00'], [limePoints, '#95ff00'], [cyanPoints, '#00f4f4']
];
const sparseGroups = [
  [upperSparseRed, '#ff0029'], [upperSparseYellow, '#dfef00'], [upperSparseOrange, '#ff8000'], [upperSparseGreen, '#2bff00'],
  [upperSparseCyan, '#00bfff'], [upperSparseBlue, '#1500ff'], [upperSparsePurple, '#8a00ff'], [upperSparsePink, '#ff00ea']
];
const denseGroups = [
  [upperDenseRed, '#ff1a00', 30], [upperDenseYellow, '#f2ff00', 110], [upperDensePurple, '#9500ff', 60], [upperDenseBlue, '#0a00ff', 60], [upperDenseCyan, '#00bfff', 60]
];

const ASD_UNIT = 1e-21;
const plot = { left: 172, right: 1856, top: 29, bottom: 796 };

const x = d3.scaleLog().domain([5, 2050]).range([plot.left, plot.right]);
const y = d3.scaleLog().domain([1e-22, 1e-17]).range([plot.bottom, plot.top]);

const svg = d3.select('#chart');
svg.append('defs').append('clipPath').attr('id', 'plot-clip').append('rect')
  .attr('x', plot.left).attr('y', plot.top)
  .attr('width', plot.right - plot.left).attr('height', plot.bottom - plot.top);

// minor and major grid
const xMinor = [];
[1, 10, 100, 1000].forEach(d => [2, 3, 4, 5, 6, 7, 8, 9].forEach(m => {
  const v = d * m;
  if (v > 5 && v < 2050) xMinor.push(v);
}));
const yMinor = [];
yDecades.slice(1).forEach(d => [2, 3, 4, 5, 6, 7, 8, 9].forEach(m => yMinor.push(d * m)));

const grid = svg.append('g');
grid.selectAll('.xmin').data(xMinor).join('line')
  .attr('x1', d => x(d)).attr('x2', d => x(d)).attr('y1', plot.top).attr('y2', plot.bottom)
  .attr('stroke', '#aaa').attr('stroke-width', 1).attr('stroke-dasharray', '2,5');
grid.selectAll('.ymin').data(yMinor).join('line')
  .attr('y1', d => y(d)).attr('y2', d => y(d)).attr('x1', plot.left).attr('x2', plot.right)
  .attr('stroke', '#aaa').attr('stroke-width', 1).attr('stroke-dasharray', '2,4');
grid.selectAll('.xmaj').data(xDecades).join('line')
  .attr('x1', d => x(d)).attr('x2', d => x(d)).attr('y1', plot.top).attr('y2', plot.bottom)
  .attr('stroke', '#555').attr('stroke-width', 1).attr('stroke-dasharray', '2,4');
grid.selectAll('.ymaj').data(yDecades).join('line')
  .attr('y1', d => y(d)).attr('y2', d => y(d)).attr('x1', plot.left).attr('x2', plot.right)
  .attr('stroke', '#444').attr('stroke-width', 1).attr('stroke-dasharray', '2,3');

const content = svg.append('g').attr('clip-path', 'url(#plot-clip)');
const line = d3.line().x(d => x(d[0])).y(d => y(d[1]));
const flatten = rows => rows.flatMap(r => r.slice(1).map(a => [r[0], a * ASD_UNIT]));

// curves go under the markers
content.append('path').datum(darmLimit).attr('d', line)
  .attr('fill', 'none').attr('stroke', '#777').attr('stroke-width', 1.2).attr('stroke-dasharray', '8,4');
content.append('path').datum(gwinc).attr('d', d3.line().x(d => x(d[0])).y(d => y(d[1])).curve(d3.curveMonotoneX))
  .attr('fill', 'none').attr('stroke', '#808080').attr('stroke-width', 5);
content.append('path').datum(darmBackground).attr('d', line)
  .attr('fill', 'none').attr('stroke', '#000').attr('stroke-width', 1.9);

const triSparse = d3.symbol().type(d3.symbolTriangle).size(24);

sparseGroups.forEach(([rows, color]) => {
  content.append('g').selectAll('path').data(flatten(rows)).join('path')
    .attr('d', triSparse)
    .attr('transform', d => `translate(${x(d[0])},${y(d[1])})`)
    .attr('fill', 'none').attr('stroke', color).attr('stroke-width', 1).attr('opacity', 0.5);
});

denseGroups.forEach(([rows, color, size]) => {
  content.append('g').selectAll('path').data(flatten(rows)).join('path')
    .attr('d', d3.symbol().type(d3.symbolTriangle).size(size))
    .attr('transform', d => `translate(${x(d[0])},${y(d[1])})`)
    .attr('fill', color).attr('stroke', color).attr('stroke-width', 1);
});

pointGroups.forEach(([rows, color]) => {
  content.append('g').selectAll('circle').data(flatten(rows)).join('circle')
    .attr('cx', d => x(d[0])).attr('cy', d => y(d[1])).attr('r', 5.3)
    .attr('fill', color).attr('stroke', '#000').attr('stroke-opacity', 0.7).attr('stroke-width', 0.9);
});

// frame and the short inner ticks
const axisColor = '#888';
const xAxis = svg.append('g').attr('transform', `translate(0,${plot.bottom})`)
  .call(d3.axisBottom(x).tickValues(xDecades).tickFormat('').tickSize(-9).tickSizeOuter(0));
const yAxis = svg.append('g').attr('transform', `translate(${plot.left},0)`)
  .call(d3.axisLeft(y).tickValues(yDecades).tickFormat('').tickSize(-9).tickSizeOuter(0));
const yAxisRight = svg.append('g').attr('transform', `translate(${plot.right},0)`)
  .call(d3.axisRight(y).tickValues(yDecades).tickFormat('').tickSize(-9).tickSizeOuter(0));
[xAxis, yAxis, yAxisRight].forEach(a => {
  a.selectAll('line').attr('stroke', axisColor);
  a.select('.domain').remove();
});
svg.append('rect').attr('x', plot.left).attr('y', plot.top)
  .attr('width', plot.right - plot.left).attr('height', plot.bottom - plot.top)
  .attr('fill', 'none').attr('stroke', axisColor).attr('stroke-width', 2);

// tick labels with raised exponents
const yLabels = svg.append('g');
yDecades.forEach(v => {
  const py = y(v);
  yLabels.append('text').attr('x', 79).attr('y', py + 20).attr('font-size', 38).text('10');
  yLabels.append('text').attr('x', 125).attr('y', py).attr('font-size', 26).text(String(Math.round(Math.log10(v))));
});
svg.append('text').attr('x', x(10)).attr('y', 829).attr('text-anchor', 'middle').attr('font-size', 38).text('10');
svg.append('text').attr('x', x(100)).attr('y', 829).attr('text-anchor', 'middle').attr('font-size', 38).text('100');
svg.append('text').attr('x', 1624).attr('y', 843).attr('font-size', 38).text('10');
svg.append('text').attr('x', 1671).attr('y', 822).attr('font-size', 26).text('3');

svg.append('text').attr('x', 1015).attr('y', 22).attr('text-anchor', 'middle').attr('font-size', 44)
  .text('Highest coupling factor at each frequency across all channels)');
svg.append('text').attr('x', 1015).attr('y', 881).attr('text-anchor', 'middle').attr('font-size', 37)
  .text('Frequency [Hz]');
svg.append('text').attr('transform', 'translate(41,411) rotate(-90)').attr('text-anchor', 'middle').attr('font-size', 37)
  .text('DARM ASD [m/sqrt(Hz)]');

// legend box runs off the bottom of the page
const legendLeft = [217, 506, 810, 1110, 1399, 1621];
svg.append('rect').attr('x', 210).attr('y', 894).attr('width', 1608).attr('height', 160)
  .attr('fill', '#fff').attr('stroke', '#999').attr('stroke-width', 2);
let legendIndex = 0;
legendColumnSizes.forEach((count, col) => {
  d3.range(count).forEach(row => {
    const rowY = 908 + row * 23;
    svg.append('rect').attr('x', legendLeft[col]).attr('y', rowY - 6.5).attr('width', 16).attr('height', 13)
      .attr('fill', legendColors[legendIndex]);
    svg.append('text').attr('x', legendLeft[col] + 28).attr('y', rowY + 5.5).attr('font-size', 15.5)
      .text(legendNames[legendIndex]);
    legendIndex += 1;
  });
});
</script>
</body>
</html>
